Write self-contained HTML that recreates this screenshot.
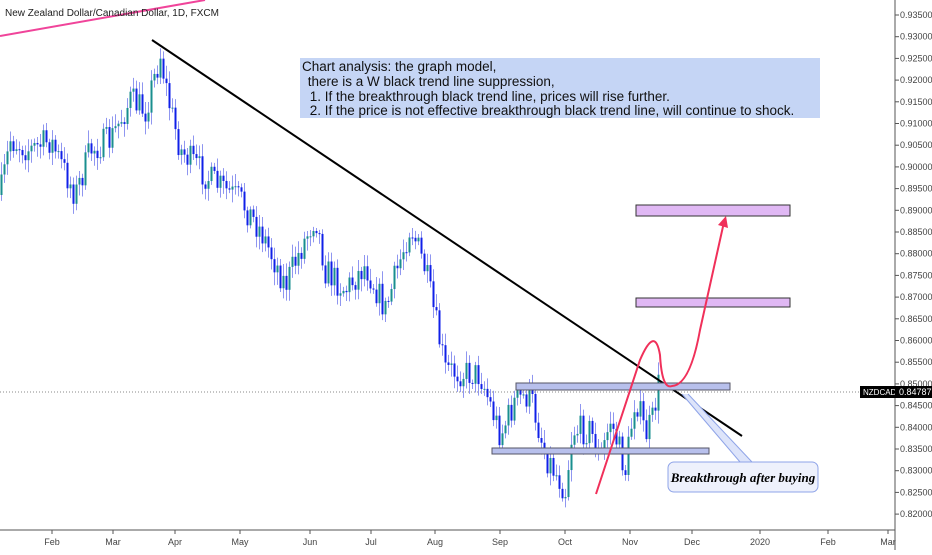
<!DOCTYPE html><html><head><meta charset="utf-8"><style>
body{margin:0;background:#fff;width:932px;height:550px;overflow:hidden;font-family:"Liberation Sans",sans-serif}
svg text{font-family:"Liberation Sans",sans-serif}
</style></head><body>
<svg id="s" width="932" height="550" xmlns="http://www.w3.org/2000/svg">
<rect width="932" height="550" fill="#fff"/>
<g id="c"></g>
<line x1="0" y1="392" x2="895" y2="392" stroke="#888" stroke-dasharray="1,2" stroke-width="1"/>
<line x1="0" y1="36" x2="205" y2="0" stroke="#f0449a" stroke-width="2"/>
<text x="5" y="16" font-size="10" fill="#222">New Zealand Dollar/Canadian Dollar, 1D, FXCM</text>
<line x1="152" y1="40" x2="742" y2="436" stroke="#000" stroke-width="2"/>
<rect x="516" y="383" width="214" height="7" fill="#b8c0ec" stroke="#556" stroke-width="1"/>
<rect x="492" y="448" width="217" height="6" fill="#b8c0ec" stroke="#556" stroke-width="1"/>
<rect x="636" y="205" width="154" height="11" fill="#e0b8f4" stroke="#333" stroke-width="1"/>
<rect x="636" y="298" width="154" height="9" fill="#e0b8f4" stroke="#333" stroke-width="1"/>
<path d="M596 494 L640 360 Q655 325 660 355 Q662 390 672 386 Q690 385 700 330 L724 222" fill="none" stroke="#f0305a" stroke-width="2"/>
<path d="M718 225 L726 216 L728 228 Z" fill="#f0305a"/>
<rect x="300" y="58" width="520" height="60" fill="#c5d5f5"/>
<text font-size="13.5" fill="#111"><tspan x="302" y="71">Chart analysis: the graph model,</tspan><tspan x="304" y="86"> there is a W black trend line suppression,</tspan><tspan x="306" y="101"> 1. If the breakthrough black trend line, prices will rise further.</tspan><tspan x="306" y="115"> 2. If the price is not effective breakthrough black trend line, will continue to shock.</tspan></text>
<path d="M682 394 L740 462 L752 462 L688 394" fill="#dde4fa" stroke="#8fa4e8" stroke-width="1"/>
<rect x="668" y="462" width="150" height="30" rx="6" fill="#eef1fc" stroke="#8fa4e8"/>
<text x="743" y="482" font-size="13" font-style="italic" font-weight="bold" text-anchor="middle" style="font-family:'Liberation Serif',serif">Breakthrough after buying</text>
<line x1="895" y1="0" x2="895" y2="550" stroke="#555"/>
<line x1="0" y1="530" x2="895" y2="530" stroke="#555"/>
<g id="ax" font-size="9" fill="#444"></g>
<rect x="860" y="386" width="35" height="12" fill="#000"/>
<text x="863" y="395" font-size="8" fill="#fff">NZDCAD</text>
<rect x="895" y="386" width="37" height="12" fill="#000"/>
<text x="899" y="395" font-size="9" fill="#fff">0.84787</text>
</svg>
<script>
(function(){
var ns="http://www.w3.org/2000/svg",ax=document.getElementById('ax'),c=document.getElementById('c');
function el(t,a,p){var e=document.createElementNS(ns,t);for(var k in a)e.setAttribute(k,a[k]);(p||c).appendChild(e);return e}
for(var i=0;i<24;i++){var p=0.935-i*0.005,y=15+i*21.7;if(Math.abs(y-392)<8)continue;
el('line',{x1:895,y1:y,x2:899,y2:y,stroke:'#555'},ax);var t=el('text',{x:900,y:y+3},ax);t.textContent=p.toFixed(5);}
var m=[["Feb",52],["Mar",113],["Apr",175],["May",240],["Jun",310],["Jul",371],["Aug",435],["Sep",500],["Oct",565],["Nov",630],["Dec",692],["2020",760],["Feb",828],["Mar",888]];
m.forEach(function(a){el('line',{x1:a[1],y1:530,x2:a[1],y2:534,stroke:'#555'},ax);var t=el('text',{x:a[1],y:545,'text-anchor':'middle'},ax);t.textContent=a[0];});
var P=[[0,195],[10,140],[30,150],[50,140],[75,195],[90,150],[110,140],[130,100],[145,110],[160,55],[168,100],[180,150],[210,180],[240,200],[260,230],[285,285],[300,250],[315,215],[325,270],[345,290],[365,265],[385,310],[410,225],[425,270],[445,370],[480,375],[500,435],[515,400],[530,395],[545,455],[565,490],[572,430],[590,430],[600,460],[610,420],[625,470],[635,395],[645,435],[652,420],[658,385]];
function yAt(x){for(var i=1;i<P.length;i++)if(x<=P[i][0]){var a=P[i-1],b=P[i];return a[1]+(b[1]-a[1])*(x-a[0])/(b[0]-a[0]);}return 385}
var sd=7;function r(){sd=(sd*16807)%2147483647;return sd/2147483647}
var prev=yAt(0);
for(var x=1;x<=658;x+=3){var y=yAt(x)+(r()-0.5)*30;var o=prev,cl=y;var hi=Math.min(o,cl)-3-r()*10,lo=Math.max(o,cl)+3+r()*10;
el('line',{x1:x+0.5,y1:hi,x2:x+0.5,y2:lo,stroke:'#8f96f0','stroke-width':1});
var up=cl<o;el('rect',{x:x-0.5,y:Math.min(o,cl),width:2,height:Math.max(1,Math.abs(o-cl)),fill:up?'#1a8f8f':'#1020e8'});prev=cl;}
})();
</script>
</body></html>
